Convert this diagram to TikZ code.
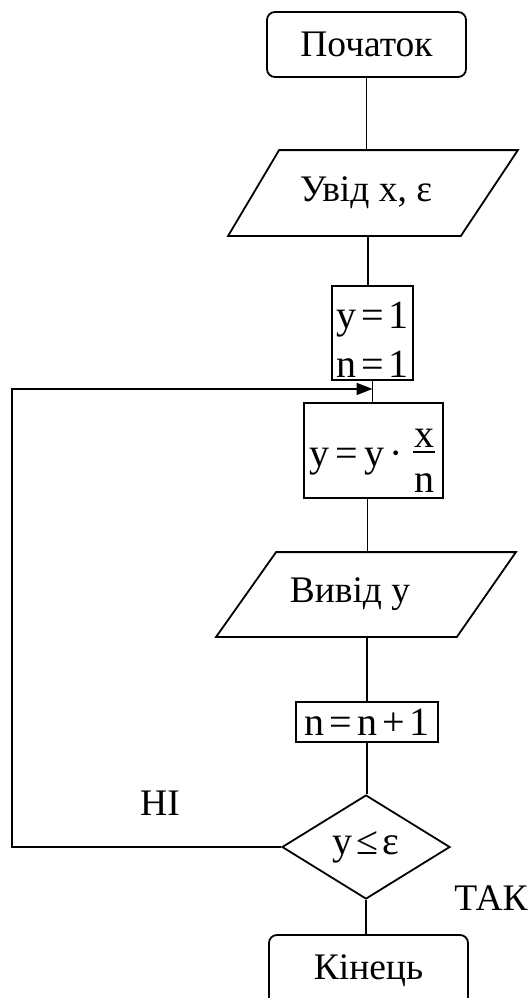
\documentclass[tikz,border=0pt]{standalone}
\usepackage{fontspec}
\setmainfont{Liberation Serif}
\usetikzlibrary{shapes.geometric,arrows.meta}
\newcommand\gp{\kern5pt}
\begin{document}
\begin{tikzpicture}[x=1pt,y=-1pt,line width=1.8pt,
  every node/.style={inner sep=0pt,font=\fontsize{37.5}{42}\selectfont},
  fml/.style={font=\fontsize{40}{44}\selectfont},
  term/.style={draw,rounded corners=8pt},
  box/.style={draw},
  dec/.style={draw,diamond}
]
\useasboundingbox (0,0) rectangle (531,998);

% start
\node[term,minimum width=199pt,minimum height=65pt] (start) at (366.5,44.5) {Початок};

% input
\node[minimum width=288pt,minimum height=84pt] (in) at (373,193) {};
\draw ([xshift=51pt]in.north west) -- (in.north east) -- ([xshift=-57pt]in.south east) -- (in.south west) -- cycle;
\node (inT) at (366,193) {Увід x, ε};

% init
\node[box,minimum width=81pt,minimum height=94pt] (init) at (372.5,333) {};
\node[fml,anchor=base] (initA) at (372.5,328) {y\gp=\gp1};
\node[fml,anchor=base] (initB) at (372.5,377) {n\gp=\gp1};

% process
\node[box,minimum width=139pt,minimum height=95pt] (proc) at (373.5,450.5) {};
\node[fml,anchor=base west] (procL) at (309,466) {y\kern6pt=\kern6pt y\kern5pt·};
\node[fml,anchor=base] (fx) at (424,447) {x};
\node[fml,anchor=base] (fn) at (424,492) {n};
\coordinate (barL) at (413,452);
\coordinate (barR) at (434.5,452);
\draw[line width=1.2pt] (barL) -- (barR);

% output
\node[minimum width=298pt,minimum height=83pt] (out) at (366,594.5) {};
\draw ([xshift=60pt]out.north west) -- (out.north east) -- ([xshift=-59pt]out.south east) -- (out.south west) -- cycle;
\node (outT) at (350,594.5) {Вивід у};

% increment
\node[box,fml,minimum width=142pt,minimum height=40pt] (inc) at (367,722) {n\gp=\gp n\gp+\gp1};

% decision
\node[dec,fml,minimum width=168pt,minimum height=104pt] (dc) at (366,847) {y\kern4pt≤\kern4pt ε};

% stop
\node[term,minimum width=199pt,minimum height=72pt] (stop) at (368.5,971) {Кінець};

% labels
\node (no) at (160,803) {НІ};
\node (yes) at (491,898) {ТАК};

% connectors
\coordinate (inS) at ([xshift=-5pt]in.south);
\coordinate (prS) at ([xshift=-6pt]proc.south);
\coordinate (ouS) at ([xshift=1pt]out.south);
\draw (start.south) -- (start.south |- in.north);
\draw (inS) -- (inS |- init.north);
\draw (init.south) -- coordinate[pos=0.38] (j) (init.south |- proc.north);
\draw (prS) -- (prS |- out.north);
\draw (ouS) -- (ouS |- inc.north);
\draw (inc.south) -- (inc.south |- dc.north);
\draw (dc.south) -- (dc.south |- stop.north);
\coordinate (lft) at (12,600);
\draw[-{Triangle[length=16pt,width=12pt]}] (dc.west) -- (dc.west -| lft) |- (j);
\end{tikzpicture}
\end{document}
